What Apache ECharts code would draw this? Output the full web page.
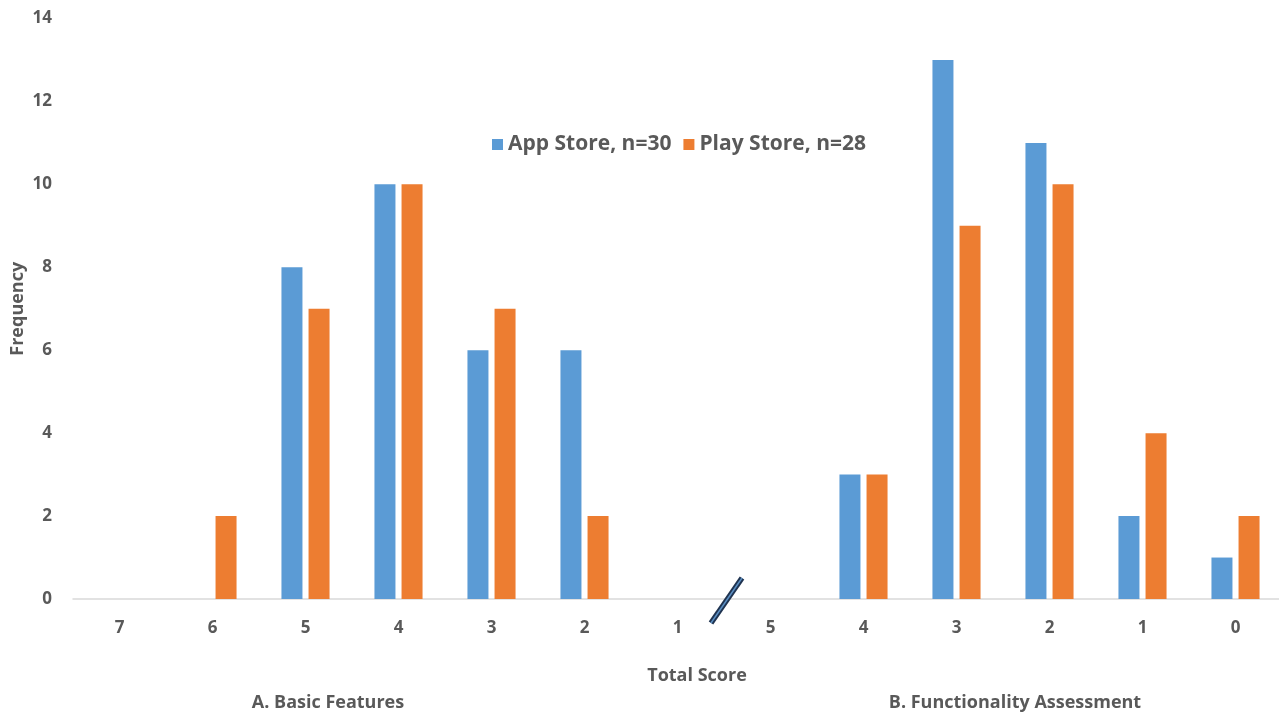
<!DOCTYPE html>
<html>
<head>
<meta charset="utf-8">
<style>
  html, body { margin: 0; padding: 0; background: #fff; }
  #chart { width: 1279px; height: 715px; }
</style>
<script src="https://cdn.jsdelivr.net/npm/echarts@6/dist/echarts.min.js"></script>
</head>
<body>
<div id="chart"></div>
<script>
// scores: A. Basic Features (7..1) then B. Functionality Assessment (5..0)
const scores = ['7', '6', '5', '4', '3', '2', '1', '5', '4', '3', '2', '1', '0'];
const appStore = [0, 0, 8, 10, 6, 6, 0, 0, 3, 13, 11, 2, 1];
const playStore = [0, 2, 7, 10, 7, 2, 0, 0, 3, 9, 10, 4, 2];
const yTicks = [0, 2, 4, 6, 8, 10, 12, 14];

const txt = '#595959';
const fontFam = '"Open Sans", "Liberation Sans", sans-serif';

const chart = echarts.init(document.getElementById('chart'));

// plain centred text for the axis title and the two group labels
function label(text, x, y) {
  return {
    type: 'text', x: x, y: y,
    style: { text: text, fill: txt, font: 'bold 18px ' + fontFam, align: 'center', verticalAlign: 'middle' }
  };
}

const option = {
  animation: false,
  textStyle: { fontFamily: fontFam },
  grid: { left: 73, width: 1209, top: 18.5, bottom: 116, containLabel: false, outerBoundsMode: 'none' },
  legend: {
    top: 129,
    left: 487,
    itemWidth: 11,
    itemHeight: 11,
    itemGap: 12,
    icon: 'rect',
    textStyle: { color: txt, fontSize: 21, fontWeight: 'bold', fontFamily: fontFam },
    data: ['App Store, n=30', 'Play Store, n=28']
  },
  xAxis: {
    type: 'category',
    data: scores,
    axisLine: { lineStyle: { color: '#D9D9D9', width: 1.5 } },
    axisTick: { show: false },
    axisLabel: { color: txt, fontSize: 17, fontWeight: 'bold', margin: 21, interval: 0 }
  },
  yAxis: {
    type: 'value',
    min: yTicks[0],
    max: yTicks[yTicks.length - 1],
    interval: 2,
    name: 'Frequency',
    nameLocation: 'middle',
    nameRotate: 90,
    nameGap: 46,
    nameMoveOverlap: false,
    nameTextStyle: { color: txt, fontSize: 18, fontWeight: 'bold' },
    splitLine: { show: false },
    axisLine: { show: false },
    axisTick: { show: false },
    axisLabel: { color: txt, fontSize: 17, fontWeight: 'bold', margin: 21 }
  },
  series: [
    {
      name: 'App Store, n=30',
      type: 'bar',
      data: appStore,
      barWidth: 21,
      barGap: '29%',
      itemStyle: { color: '#5B9BD5' }
    },
    {
      name: 'Play Store, n=28',
      type: 'bar',
      data: playStore,
      barWidth: 21,
      itemStyle: { color: '#ED7D31' }
    }
  ],
  graphic: [
    label('Total Score', 697, 676),
    label('A. Basic Features', 328, 703),
    label('B. Functionality Assessment', 1015, 703),
    {
      type: 'line', z: 100,
      shape: { x1: 711, y1: 623, x2: 742, y2: 578 },
      style: { stroke: '#1F3350', lineWidth: 5.5 }
    },
    {
      type: 'line', z: 101,
      shape: { x1: 711, y1: 623, x2: 742, y2: 578 },
      style: { stroke: '#5A8EC2', lineWidth: 1.5 }
    }
  ]
};

chart.setOption(option);
</script>
</body>
</html>
